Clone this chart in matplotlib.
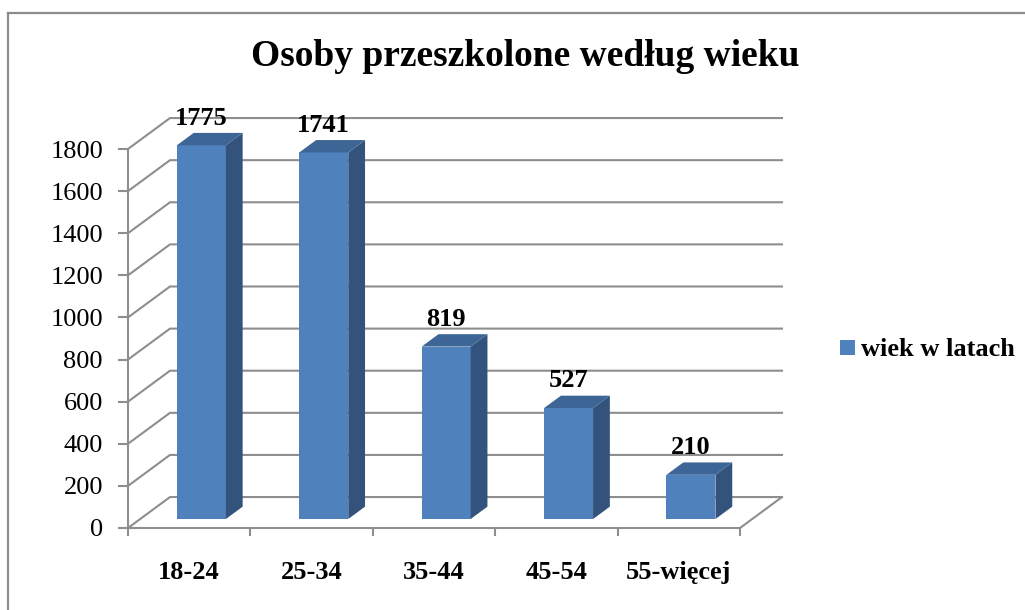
import matplotlib
matplotlib.use('Agg')
import matplotlib.pyplot as plt
from matplotlib.patches import Polygon
from matplotlib.lines import Line2D

# data
categories = ['18-24', '25-34', '35-44', '45-54', '55-więcej']
values = [1775, 1741, 819, 527, 210]
series_name = 'wiek w latach'
title = 'Osoby przeszkolone według wieku'
y_ticks = [0, 200, 400, 600, 800, 1000, 1200, 1400, 1600, 1800]

plt.rcParams['font.family'] = ['Liberation Serif', 'DejaVu Serif']

GRID = '#8E8E8E'
FRONT = '#4F81BD'
SIDE = '#33537C'
TOP = '#3D6595'

# pseudo 3D depth of the floor (category units, value units)
DX, DY = 0.343, 147.0
F0, F1 = 0.29, 0.69   # bar front / back position inside the depth
BW = 0.4              # bar width

W, H = 1025, 610
fig = plt.figure(figsize=(W / 100, H / 100), dpi=100)
ax = fig.add_axes([128 / W, 82 / H, 612 / W, 379 / H])
n = len(categories)
ax.set_xlim(-0.5, n - 0.5)
ax.set_ylim(0, 1800)
ax.patch.set_visible(False)

# walls: gridlines on left wall and back wall
x0, x1 = -0.5, n - 0.5
for t in y_ticks:
    ax.plot([x0, x0 + DX, x1 + DX], [t, t + DY, t + DY], color=GRID, lw=1.5,
            clip_on=False, zorder=1)
# floor right edge
ax.plot([x1, x1 + DX], [0, DY], color=GRID, lw=1.5, clip_on=False, zorder=1)

# bars
xs = [i + F0 * DX for i in range(n)]
bars = ax.bar(xs, values, width=BW, bottom=F0 * DY, color=FRONT, label=series_name,
              clip_on=False, zorder=3)
bd = F1 - F0
for x, v in zip(xs, values):
    xl, xr = x - BW / 2, x + BW / 2
    yb, yt = F0 * DY, F0 * DY + v
    side = Polygon([(xr, yb), (xr + bd * DX, yb + bd * DY), (xr + bd * DX, yt + bd * DY), (xr, yt)],
                   closed=True, facecolor=SIDE, edgecolor='none', clip_on=False, zorder=3)
    top = Polygon([(xl, yt), (xr, yt), (xr + bd * DX, yt + bd * DY), (xl + bd * DX, yt + bd * DY)],
                  closed=True, facecolor=TOP, edgecolor='none', clip_on=False, zorder=3)
    ax.add_patch(side)
    ax.add_patch(top)
    ax.annotate(str(v), (x, yt), xytext=(0, 19.5), textcoords='offset points',
                ha='center', va='center', fontsize=19, fontweight='bold', zorder=5,
                annotation_clip=False)

# axes styling
for s in ['top', 'right']:
    ax.spines[s].set_visible(False)
for s in ['left', 'bottom']:
    ax.spines[s].set_color(GRID)
    ax.spines[s].set_linewidth(1.5)
ax.set_yticks(y_ticks)
ax.set_yticklabels([str(t) for t in y_ticks])
ax.tick_params(axis='y', direction='out', length=7, width=1.5, color=GRID,
               labelsize=19, pad=11)
ax.set_xticks(range(n))
ax.set_xticklabels(categories, fontsize=19, fontweight='bold')
ax.set_xticks([i - 0.5 for i in range(n + 1)], minor=True)
ax.tick_params(axis='x', which='major', length=0, pad=24)
ax.tick_params(axis='x', which='minor', direction='out', length=6, width=1.5, color=GRID)

# legend
leg = fig.legend(handles=[bars], labels=[series_name], loc='center left',
                 bbox_to_anchor=(827 / W, 1 - 350 / H), frameon=False, borderpad=0,
                 handlelength=0.55, handleheight=0.5, handletextpad=0.25,
                 prop={'size': 19, 'weight': 'bold'})

# title
fig.text(525 / W, 1 - 57 / H, title, ha='center', va='center', fontsize=27,
         fontweight='bold')

# chart frame (left and top only visible)
fig.add_artist(Line2D([8 / W, 8 / W], [0, 1 - 13 / H], color='#8C8C8C', lw=1.6))
fig.add_artist(Line2D([8 / W, 1], [1 - 13 / H, 1 - 13 / H], color='#8C8C8C', lw=1.6))

fig.savefig('out.png', dpi=100)
